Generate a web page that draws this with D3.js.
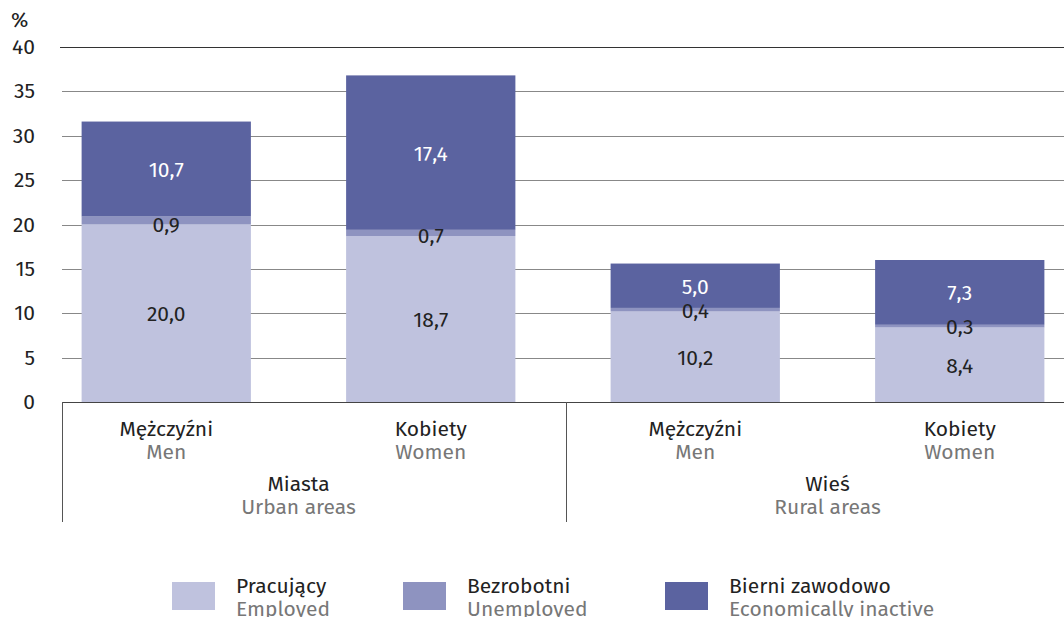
<!DOCTYPE html>
<html>
<head>
<meta charset="utf-8">
<script src="https://cdn.jsdelivr.net/npm/d3@7"></script>
<style>
  body { margin: 0; background: #fff; }
  svg { display: block; font-family: "Fira Sans", "Noto Sans", sans-serif; font-weight: 400; }
</style>
</head>
<body>
<script>
const groups = ['Miasta', 'Wieś'];
const groupsEn = ['Urban areas', 'Rural areas'];
const sexPl = ['Mężczyźni', 'Kobiety', 'Mężczyźni', 'Kobiety'];
const sexEn = ['Men', 'Women', 'Men', 'Women'];
const bars = ['mu', 'wu', 'mr', 'wr'];
const employed = [20.0, 18.7, 10.2, 8.4];
const unemployed = [0.9, 0.7, 0.4, 0.3];
const inactive = [10.7, 17.4, 5.0, 7.3];
const seriesPl = ['Pracujący', 'Bezrobotni', 'Bierni zawodowo'];
const seriesEn = ['Employed', 'Unemployed', 'Economically inactive'];
const yTicks = [0, 5, 10, 15, 20, 25, 30, 35, 40];

const width = 1064, height = 617;
const fs = 21;
const colors = ['#bfc2de', '#8e93c0', '#5b63a0'];

const svg = d3.select('body').append('svg')
    .attr('width', width)
    .attr('height', height);

const y = d3.scaleLinear().domain([0, 40]).range([402, 47]);
const x = d3.scaleBand().domain(bars).range([34, 1092])
    .paddingInner(0.36).paddingOuter(0.18);

// gridlines
svg.append('g').selectAll('line')
    .data(yTicks)
    .enter().append('line')
    .attr('x1', d => d === 40 ? 60 : 62)
    .attr('x2', width)
    .attr('y1', d => Math.round(y(d)) + 0.5)
    .attr('y2', d => Math.round(y(d)) + 0.5)
    .attr('stroke', d => (d === 40 || d === 0) ? '#333' : '#888')
    .attr('stroke-width', 1);

// y tick labels
svg.append('g').selectAll('text')
    .data(yTicks)
    .enter().append('text')
    .attr('x', 35)
    .attr('y', d => y(d) + 7)
    .attr('text-anchor', 'end')
    .attr('font-size', fs)
    .attr('fill', '#222')
    .text(d => d);

svg.append('text')
    .attr('x', 11).attr('y', 27)
    .attr('font-size', fs).attr('fill', '#222')
    .text('%');

// stacked data
const table = bars.map((k, i) => ({ key: k, employed: employed[i], unemployed: unemployed[i], inactive: inactive[i] }));
const stack = d3.stack().keys(['employed', 'unemployed', 'inactive'])(table);

svg.append('g').selectAll('g')
    .data(stack)
    .enter().append('g')
    .attr('fill', (d, i) => colors[i])
    .selectAll('rect')
    .data(d => d)
    .enter().append('rect')
    .attr('x', d => x(d.data.key))
    .attr('width', x.bandwidth())
    .attr('y', d => y(d[1]))
    .attr('height', d => y(d[0]) - y(d[1]));

// baseline above bars
svg.append('line')
    .attr('x1', 62).attr('x2', width)
    .attr('y1', Math.round(y(0)) + 0.5).attr('y2', Math.round(y(0)) + 0.5)
    .attr('stroke', '#444');

const fmt = v => v.toFixed(1).replace('.', ',');

// value labels
stack.forEach((s, si) => {
    svg.append('g').selectAll('text')
        .data(s)
        .enter().append('text')
        .attr('x', d => x(d.data.key) + x.bandwidth() / 2)
        .attr('y', d => si === 1 ? y(d[0]) + 7 : y((d[0] + d[1]) / 2) + 8)
        .attr('text-anchor', 'middle')
        .attr('font-size', fs)
        .attr('fill', si === 2 ? '#fff' : '#222')
        .text(d => fmt(d[1] - d[0]));
});

// category axis
const axisTop = Math.round(y(0));
const divider = (x('wu') + x.bandwidth() + x('mr')) / 2 + 3;
[62, divider].forEach(px => {
    svg.append('line')
        .attr('x1', Math.round(px) + 0.5).attr('x2', Math.round(px) + 0.5)
        .attr('y1', axisTop).attr('y2', 522)
        .attr('stroke', '#555');
});

svg.append('g').selectAll('text')
    .data(bars)
    .enter().append('text')
    .attr('x', d => x(d) + x.bandwidth() / 2)
    .attr('y', 436)
    .attr('text-anchor', 'middle')
    .attr('font-size', fs)
    .attr('fill', '#222')
    .text((d, i) => sexPl[i]);

svg.append('g').selectAll('text')
    .data(bars)
    .enter().append('text')
    .attr('x', d => x(d) + x.bandwidth() / 2)
    .attr('y', 459)
    .attr('text-anchor', 'middle')
    .attr('font-size', fs)
    .attr('fill', '#777')
    .text((d, i) => sexEn[i]);

const groupCenters = [(x('mu') + x('wu') + x.bandwidth()) / 2, (x('mr') + x('wr') + x.bandwidth()) / 2];
groups.forEach((g, i) => {
    svg.append('text')
        .attr('x', groupCenters[i]).attr('y', 491)
        .attr('text-anchor', 'middle').attr('font-size', fs).attr('fill', '#222')
        .text(g);
    svg.append('text')
        .attr('x', groupCenters[i]).attr('y', 514)
        .attr('text-anchor', 'middle').attr('font-size', fs).attr('fill', '#777')
        .text(groupsEn[i]);
});

// legend
const legendX = [172, 403, 665];
const legend = svg.append('g').selectAll('g')
    .data(seriesPl)
    .enter().append('g')
    .attr('transform', (d, i) => `translate(${legendX[i]},582)`);

legend.append('rect')
    .attr('width', 43).attr('height', 28)
    .attr('fill', (d, i) => colors[i]);

legend.append('text')
    .attr('x', 64).attr('y', 11)
    .attr('font-size', fs).attr('fill', '#222')
    .text(d => d);

legend.append('text')
    .attr('x', 64).attr('y', 34)
    .attr('font-size', fs).attr('fill', '#777')
    .text((d, i) => seriesEn[i]);
</script>
</body>
</html>
